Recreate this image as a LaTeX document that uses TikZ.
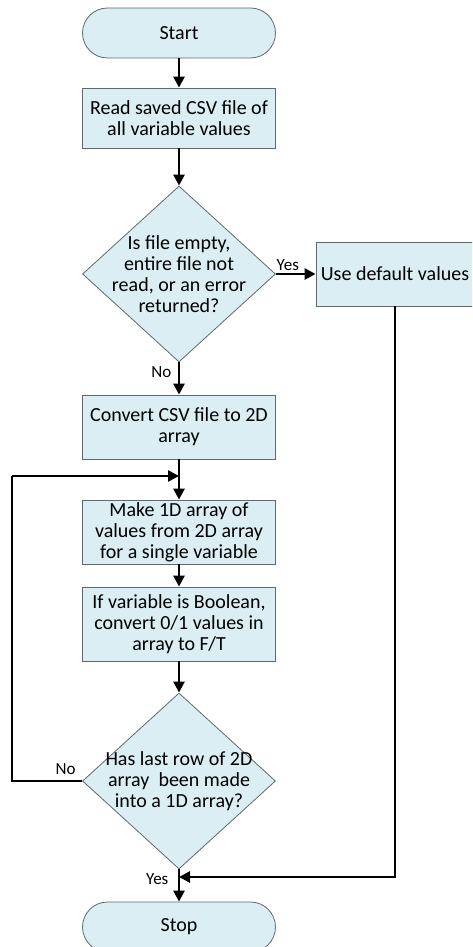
\documentclass[tikz,border=0pt]{standalone}
\usepackage{fontspec}
\setmainfont{Carlito}
\usepackage{xcolor}
\definecolor{boxfill}{HTML}{DAEEF3}
\definecolor{boxline}{HTML}{5E6A6E}
\usetikzlibrary{arrows.meta, shapes.geometric}

\begin{document}
\begin{tikzpicture}[
  x=1pt, y=1pt,
  terminal/.style={draw=boxline, fill=boxfill, line width=0.8pt, rounded corners=25pt, minimum width=193pt, minimum height=50pt, font=\fontsize{20}{21}\selectfont},
  process/.style={draw=boxline, fill=boxfill, line width=0.8pt, minimum width=193pt, inner sep=0pt, align=center, font=\fontsize{20}{21}\selectfont},
  decision/.style={diamond, draw=boxline, fill=boxfill, line width=0.8pt, minimum width=193pt, minimum height=176pt, inner xsep=-34pt, inner ysep=-24pt, align=center, font=\fontsize{20}{21}\selectfont},
  flow/.style={line width=2.6pt, -{Triangle[length=11pt, width=11pt]}},
  tag/.style={font=\fontsize{17}{18}\selectfont},
]
\useasboundingbox (0,0) rectangle (472,-947);
\clip (0,0) rectangle (472,-947);

\node[terminal] (start) at (179,-33) {Start};
\node[process, minimum height=60pt] (readcsv) at (179,-118) {Read saved CSV file of\\all variable values};
\node[decision] (isempty) at (179,-274) {Is file empty,\\entire file not\\read, or an error\\returned?};
\node[process, minimum width=158pt, minimum height=64pt] (usedefault) at (395,-274) {Use default values};
\node[process, minimum height=64pt] (convert) at (179,-427) {Convert CSV file to 2D\\array};
\node[process, minimum height=64pt] (makeone) at (179,-532) {Make 1D array of\\values from 2D array\\for a single variable};
\node[process, minimum height=74pt] (boolconv) at (179,-624) {If variable is Boolean,\\convert 0/1 values in\\array to F/T};
\node[decision] (lastrow) at (179,-781) {Has last row of 2D\\array\ \ been made\\into a 1D array?};
\node[terminal] (stop) at (179,-927) {Stop};

% merge points
\coordinate (merge) at (179,-476);
\coordinate (loopx) at (12,-476);
\coordinate (join) at (179,-877);

\draw[flow] (start) -- (readcsv);
\draw[flow] (readcsv) -- (isempty);
\draw[flow] (isempty.east) -- (usedefault.west) node[tag, pos=0.3, above, yshift=-1pt] (yestag) {Yes};
\draw[flow] (isempty.south) -- (convert.north) node[tag, pos=0, anchor=north east, xshift=-3pt] (notag) {No};
\draw[flow] (convert) -- (makeone);
\draw[flow] (makeone) -- (boolconv);
\draw[flow] (boolconv) -- (lastrow);
\draw[line width=2.6pt] (lastrow.west) -| (loopx) node[tag, pos=0, anchor=south east, xshift=-2pt, yshift=2pt] (noloop) {No};
\draw[flow] (loopx) -- (merge);
\draw[flow] (usedefault.south) |- (join);
\draw[flow] (lastrow.south) -- (stop.north) node[tag, pos=0.3, left, xshift=-6pt] (yesstop) {Yes};

\end{tikzpicture}
\end{document}
